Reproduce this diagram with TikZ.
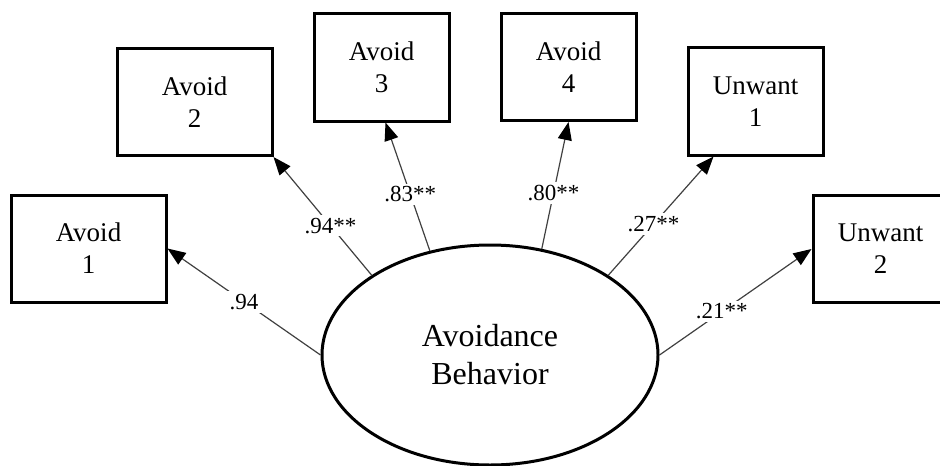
\documentclass[tikz,border=0pt]{standalone}
\usepackage{fontspec}
\setmainfont{Liberation Serif}
\usetikzlibrary{arrows.meta,shapes.geometric}
\begin{document}
\begin{tikzpicture}[x=0.5pt,y=-0.5pt,
  item/.style={draw,line width=1.5pt,minimum height=53.5pt,align=center,font=\fontsize{13.5}{16}\selectfont},
  load/.style={-{Triangle[length=9pt,width=7pt,color=black]},line width=0.6pt,draw=black!75},
  coef/.style={fill=white,inner sep=1.5pt,font=\fontsize{11.5}{13}\selectfont}]
  \clip (0,0) rectangle (940,465);
  \node[item,minimum width=77.5pt] (a1) at (88.5,248.5) {Avoid\\1};
  \node[item,minimum width=77.5pt] (a2) at (194.5,102) {Avoid\\2};
  \node[item,minimum width=67.5pt] (a3) at (381.5,67.5) {Avoid\\3};
  \node[item,minimum width=67.5pt] (a4) at (568.5,67) {Avoid\\4};
  \node[item,minimum width=67.5pt] (u1) at (755.5,101.5) {Unwant\\1};
  \node[item,minimum width=67.5pt] (u2) at (880.5,249) {Unwant\\2};
  \node[draw,ellipse,line width=1.5pt,minimum width=168pt,minimum height=110pt,align=center,
    font=\fontsize{16}{19}\selectfont] (ab) at (490,355) {Avoidance\\Behavior};
  \draw[load] (ab.west) -- node[coef]{.94} (a1.east);
  \draw[load] (ab.146) -- node[coef,pos=0.42]{.94**} (a2.south east);
  \draw[load] (ab.120) -- node[coef,pos=0.44]{.83**} ([xshift=2pt]a3.south);
  \draw[load] (ab.64) -- node[coef,pos=0.44]{.80**} (a4.south);
  \draw[load] (ab.34) -- node[coef,pos=0.43]{.27**} ([xshift=-21pt]u1.south);
  \draw[load] (ab.east) -- node[coef,pos=0.41]{.21**} (u2.west);
\end{tikzpicture}
\end{document}
